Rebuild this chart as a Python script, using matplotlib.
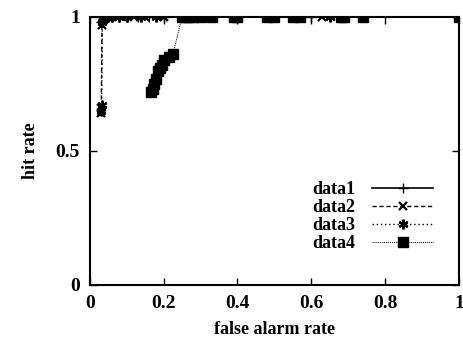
import matplotlib
matplotlib.use('Agg')
import matplotlib.pyplot as plt

plt.rcParams['font.family'] = ['Liberation Serif', 'DejaVu Serif']
plt.rcParams['font.weight'] = 'bold'

# data
data1_x = [0.03, 0.035, 0.04, 0.05, 0.06, 0.08, 0.1, 0.13, 0.16, 0.2, 0.25, 0.3, 0.4, 0.6, 1.0]
data1_y = [0.98, 1.0, 1.0, 1.0, 1.0, 1.0, 1.0, 1.0, 1.0, 1.0, 1.0, 1.0, 1.0, 1.0, 1.0]

data2_x = [0.03, 0.031, 0.033, 0.035, 0.04, 0.045, 0.05, 0.06, 0.07, 0.09, 0.12, 0.15, 0.2, 0.63, 1.0]
data2_y = [0.64, 0.66, 0.97, 0.99, 1.0, 1.0, 1.0, 1.0, 1.0, 1.0, 1.0, 1.0, 1.0, 1.0, 1.0]

data3_x = [0.03, 0.032, 0.034, 0.036, 0.04, 0.05, 0.06, 0.08, 0.1, 0.14, 0.18, 0.26, 0.5, 0.65, 1.0]
data3_y = [0.65, 0.67, 0.98, 0.99, 1.0, 1.0, 1.0, 1.0, 1.0, 1.0, 1.0, 1.0, 1.0, 1.0, 1.0]

data4_x = [0.165, 0.17, 0.175, 0.18, 0.185, 0.19, 0.195, 0.2, 0.215, 0.225, 0.25, 0.26, 0.27, 0.28,
           0.3, 0.33, 0.39, 0.4, 0.48, 0.5, 0.55, 0.57, 0.68, 0.69, 0.74, 1.0]
data4_y = [0.72, 0.73, 0.75, 0.77, 0.8, 0.81, 0.82, 0.84, 0.85, 0.86, 1.0, 1.0, 1.0, 1.0,
           1.0, 1.0, 1.0, 1.0, 1.0, 1.0, 1.0, 1.0, 1.0, 1.0, 1.0, 1.0]

fig = plt.figure(figsize=(4.63, 3.45), dpi=100)
ax = fig.add_axes([0.194, 0.174, 0.797, 0.777])

ax.plot(data1_x, data1_y, color='black', linestyle='-', linewidth=1.2,
        marker='+', markersize=7, label='data1')
ax.plot(data2_x, data2_y, color='black', linestyle=(0, (3, 2)), linewidth=1.0,
        marker='x', markersize=6, markeredgewidth=1.6, label='data2')
ax.plot(data3_x, data3_y, color='black', linestyle=(0, (1, 2)), linewidth=1.0,
        marker=(6, 2, 0), markersize=7, markeredgewidth=1.6, label='data3')
ax.plot(data4_x, data4_y, color='black', linestyle=(0, (1, 1)), linewidth=0.7,
        marker='s', markersize=7, label='data4')

ax.set_xlim(0, 1)
ax.set_ylim(0, 1)
ax.set_xticks([0, 0.2, 0.4, 0.6, 0.8, 1])
ax.set_xticklabels(['0', '0.2', '0.4', '0.6', '0.8', '1'])
ax.set_yticks([0, 0.5, 1])
ax.set_yticklabels(['0', '0.5', '1'])
ax.tick_params(direction='in', top=True, right=True, length=5, width=1,
               labelsize=14, pad=7)
for spine in ax.spines.values():
    spine.set_linewidth(1.5)

ax.set_xlabel('false alarm rate', fontsize=13, fontweight='bold', labelpad=7)
ax.set_ylabel('hit rate', fontsize=13, fontweight='bold', labelpad=12)

ax.legend(loc='center right', bbox_to_anchor=(0.96, 0.255), frameon=False,
          markerfirst=False, fontsize=13, handlelength=3.4, labelspacing=0.05,
          borderpad=0.1, handletextpad=0.9)

plt.savefig('out.png', dpi=100)
